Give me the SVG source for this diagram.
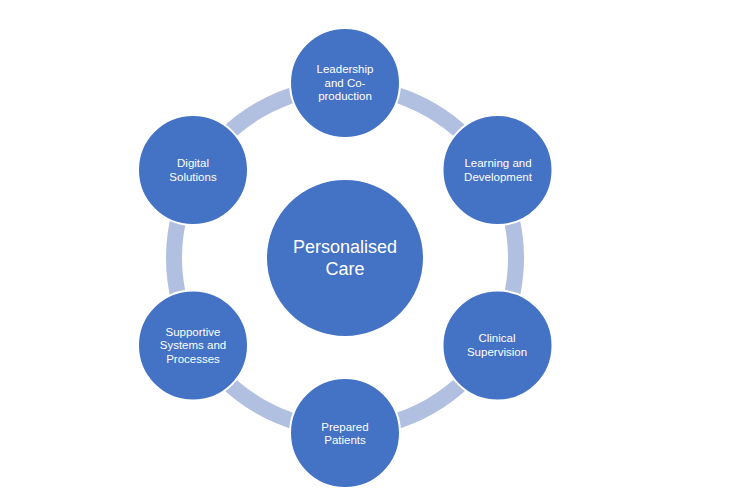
<svg xmlns="http://www.w3.org/2000/svg" width="739" height="501" viewBox="0 0 739 501">
<style>
.ring{fill:none;stroke:#B1BFE0;stroke-width:16}
.node{fill:#4472C4;stroke:#FFFFFF;stroke-width:2}
.lbl{font-family:"Liberation Sans",Arial,sans-serif;font-size:11.5px;fill:#FFFFFF;text-anchor:middle}
.big{font-family:"Liberation Sans",Arial,sans-serif;font-size:18px;fill:#FFFFFF;text-anchor:middle}
</style>
<rect width="739" height="501" fill="#FFFFFF"/>
<g id="connectors">
<path class="ring" d="M345 87 A171 171 0 0 1 493.09 172.5"/>
<path class="ring" d="M493.09 172.5 A171 171 0 0 1 493.09 343.5"/>
<path class="ring" d="M493.09 343.5 A171 171 0 0 1 345 429"/>
<path class="ring" d="M345 429 A171 171 0 0 1 196.91 343.5"/>
<path class="ring" d="M196.91 343.5 A171 171 0 0 1 196.91 172.5"/>
<path class="ring" d="M196.91 172.5 A171 171 0 0 1 345 87"/>
</g>
<g id="center">
<circle class="node" cx="345" cy="258" r="79"/>
<text class="big" x="345" y="253">Personalised</text>
<text class="big" x="345" y="275">Care</text>
</g>
<g id="leadership">
<circle class="node" cx="345" cy="83" r="55"/>
<text class="lbl" x="345" y="73">Leadership</text>
<text class="lbl" x="345" y="86.5">and Co-</text>
<text class="lbl" x="345" y="100">production</text>
</g>
<g id="learning">
<circle class="node" cx="497.5" cy="170" r="55"/>
<text class="lbl" x="498" y="167">Learning and</text>
<text class="lbl" x="498" y="181">Development</text>
</g>
<g id="clinical">
<circle class="node" cx="497.5" cy="345.5" r="55"/>
<text class="lbl" x="497" y="342">Clinical</text>
<text class="lbl" x="497" y="356">Supervision</text>
</g>
<g id="patients">
<circle class="node" cx="345" cy="433" r="55"/>
<text class="lbl" x="345" y="431">Prepared</text>
<text class="lbl" x="345" y="444">Patients</text>
</g>
<g id="supportive">
<circle class="node" cx="193" cy="345.5" r="55"/>
<text class="lbl" x="193" y="335.5">Supportive</text>
<text class="lbl" x="193" y="349">Systems and</text>
<text class="lbl" x="193" y="362.5">Processes</text>
</g>
<g id="digital">
<circle class="node" cx="193" cy="170" r="55"/>
<text class="lbl" x="193" y="167">Digital</text>
<text class="lbl" x="193" y="181">Solutions</text>
</g>
</svg>
